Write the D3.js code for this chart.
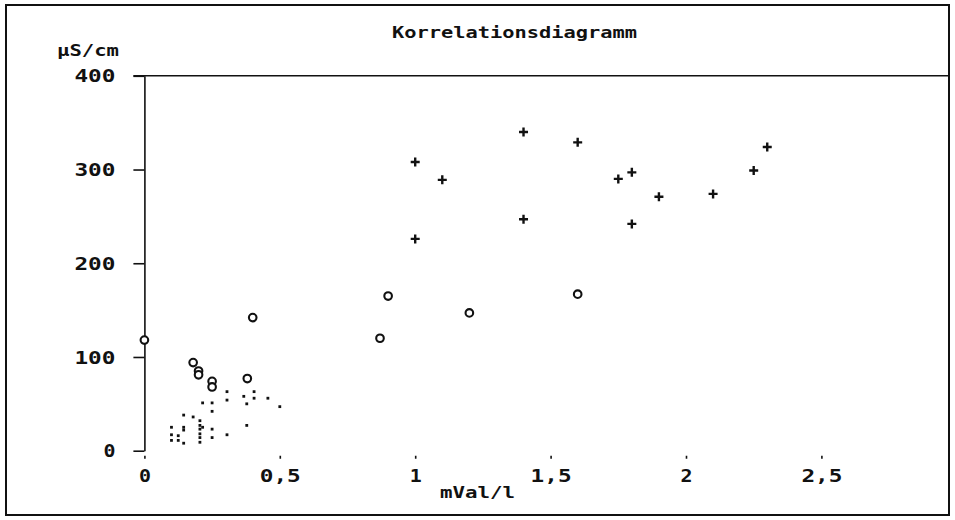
<!DOCTYPE html>
<html>
<head>
<meta charset="utf-8">
<script src="https://cdn.jsdelivr.net/npm/d3@7"></script>
<style>
  body { margin: 0; background: #fff; }
  text { font-family: "DejaVu Sans Mono", "Liberation Mono", monospace; fill: #111; }
</style>
</head>
<body>
<div id="chart"></div>
<script>
// values
var plusX = [1.0, 1.1, 1.0, 1.4, 1.4, 1.6, 1.75, 1.8, 1.8, 1.9, 2.1, 2.25, 2.3];
var plusY = [308, 289, 226, 340, 247, 329, 290, 297, 242, 271, 274, 299, 324];

var circleX = [0, 0.18, 0.2, 0.2, 0.25, 0.25, 0.38, 0.4, 0.87, 0.9, 1.2, 1.6];
var circleY = [118, 94, 85, 81, 74, 68, 77, 142, 120, 165, 147, 167];

var dotX = [0.1, 0.1, 0.1, 0.125, 0.125, 0.145, 0.145, 0.145, 0.145, 0.18,
            0.205, 0.205, 0.205, 0.205, 0.205, 0.205, 0.215, 0.215,
            0.25, 0.25, 0.25, 0.25, 0.305, 0.305, 0.305,
            0.367, 0.378, 0.378, 0.405, 0.405, 0.456, 0.5];
var dotY = [25, 17, 11, 16, 11, 38, 25, 22, 8, 36,
            32, 27, 23, 18, 14, 9, 51, 25,
            51, 42, 23, 14, 63, 54, 17,
            58, 50, 27, 63, 56, 56, 47];

var xTicks = [0, 0.5, 1, 1.5, 2, 2.5];
var yTicks = [0, 100, 200, 300, 400];

var w = 955, h = 520;
var frame = {left: 6, top: 5, right: 949, bottom: 515};

var svg = d3.select("#chart").append("svg")
    .attr("width", w)
    .attr("height", h);

var x = d3.scaleLinear().domain([0, 3]).range([144.4, 956.8]);
var y = d3.scaleLinear().domain([0, 400]).range([450.7, 75.8]);

// clip everything to the outer frame
svg.append("clipPath").attr("id", "inside")
    .append("rect")
    .attr("x", frame.left).attr("y", frame.top)
    .attr("width", frame.right - frame.left - 1)
    .attr("height", frame.bottom - frame.top);

var fmt = function (d) { return String(d).replace(".", ","); };
// the old plotter font is wide, stretch the glyphs
var textLen = function (s) { return s.length * 14.5 - 2.5; };

// y axis
var gy = svg.append("g")
    .attr("transform", "translate(" + x(0) + ",0)")
    .call(d3.axisLeft(y).tickValues(yTicks).tickSize(11).tickSizeOuter(0).tickPadding(18).tickFormat(fmt));

// x axis
var gx = svg.append("g")
    .attr("clip-path", "url(#inside)")
    .attr("transform", "translate(0," + y(0) + ")")
    .call(d3.axisBottom(x).tickValues(xTicks).tickSize(8).tickSizeOuter(0).tickPadding(11).tickFormat(fmt));

[gx, gy].forEach(function (g) {
    g.select(".domain").attr("stroke", "#111").attr("stroke-width", 1.6);
    g.selectAll(".tick line").attr("stroke", "#111").attr("stroke-width", 1.6);
    g.selectAll(".tick text")
        .attr("font-size", 17)
        .attr("font-weight", "bold")
        .attr("textLength", function (d) { return textLen(fmt(d)); })
        .attr("lengthAdjust", "spacingAndGlyphs")
        .attr("fill", "#111");
});
gy.selectAll(".tick text").attr("dy", "0.36em");

// line across the top at 400
svg.append("line")
    .attr("clip-path", "url(#inside)")
    .attr("x1", x(0) - 11).attr("x2", x(3))
    .attr("y1", y(400)).attr("y2", y(400))
    .attr("stroke", "#111").attr("stroke-width", 1.6);

// dots
svg.append("g").selectAll("rect")
    .data(dotX)
    .enter().append("rect")
    .attr("x", function (d) { return x(d) - 1.4; })
    .attr("y", function (d, i) { return y(dotY[i]) - 1.4; })
    .attr("width", 2.8)
    .attr("height", 2.8)
    .attr("fill", "#111");

// circles
svg.append("g").selectAll("circle")
    .data(circleX)
    .enter().append("circle")
    .attr("cx", function (d) { return x(d); })
    .attr("cy", function (d, i) { return y(circleY[i]); })
    .attr("r", 3.8)
    .attr("fill", "#fff")
    .attr("stroke", "#111")
    .attr("stroke-width", 2.1);

// crosses
svg.append("g").selectAll("path")
    .data(plusX)
    .enter().append("path")
    .attr("transform", function (d, i) { return "translate(" + x(d) + "," + y(plusY[i]) + ")"; })
    .attr("d", "M-4.5,0H4.5M0,-4.5V4.5")
    .attr("stroke", "#111")
    .attr("stroke-width", 2.4);

// texts
svg.append("text")
    .attr("x", 392).attr("y", 38)
    .attr("font-size", 15)
    .attr("font-weight", "bold")
    .attr("textLength", 245).attr("lengthAdjust", "spacingAndGlyphs")
    .text("Korrelationsdiagramm");

svg.append("text")
    .attr("x", 57).attr("y", 56)
    .attr("font-size", 15)
    .attr("font-weight", "bold")
    .attr("textLength", 62).attr("lengthAdjust", "spacingAndGlyphs")
    .text("µS/cm");

svg.append("text")
    .attr("x", 440).attr("y", 498)
    .attr("font-size", 16)
    .attr("font-weight", "bold")
    .attr("textLength", 75).attr("lengthAdjust", "spacingAndGlyphs")
    .text("mVal/l");

// outer frame
svg.append("rect")
    .attr("x", frame.left).attr("y", frame.top)
    .attr("width", frame.right - frame.left)
    .attr("height", frame.bottom - frame.top)
    .attr("fill", "none")
    .attr("stroke", "#111")
    .attr("stroke-width", 2);
</script>
</body>
</html>
